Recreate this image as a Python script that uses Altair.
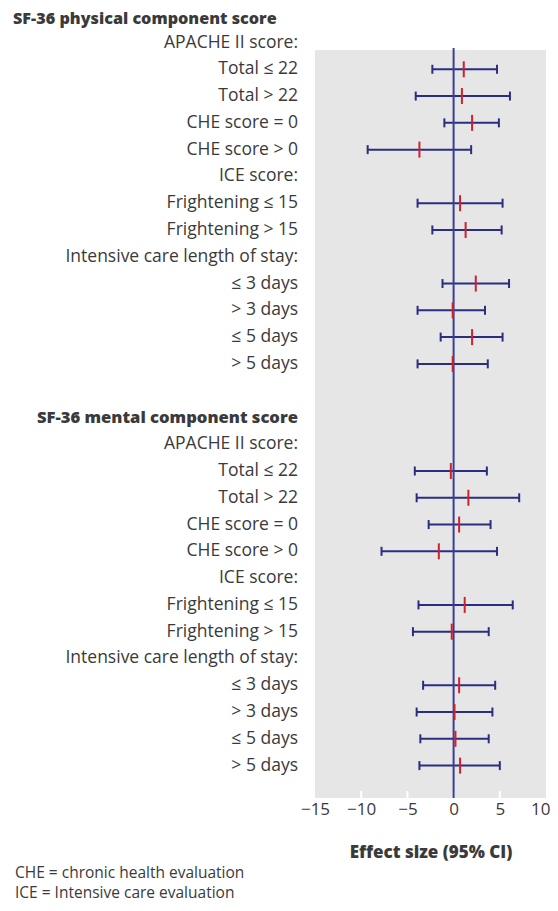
import altair as alt
import pandas as pd

# ---- data ----
labels = [
    "APACHE II score:", "Total ≤ 22", "Total > 22", "CHE score = 0", "CHE score > 0",
    "ICE score:", "Frightening ≤ 15", "Frightening > 15",
    "Intensive care length of stay:", "≤ 3 days", "> 3 days", "≤ 5 days", "> 5 days",
]
sections = ["SF-36 physical component score", "SF-36 mental component score"]

# estimates (None for header rows)
phys_est = [None, 1.1, 0.9, 2.0, -3.7, None, 0.7, 1.3, None, 2.4, -0.1, 2.0, -0.1]
phys_lo = [None, -2.3, -4.1, -1.0, -9.3, None, -3.9, -2.3, None, -1.2, -3.9, -1.4, -3.9]
phys_hi = [None, 4.7, 6.1, 4.9, 1.9, None, 5.3, 5.2, None, 6.0, 3.4, 5.3, 3.7]

ment_est = [None, -0.3, 1.6, 0.6, -1.6, None, 1.2, -0.2, None, 0.6, 0.1, 0.2, 0.7]
ment_lo = [None, -4.2, -4.0, -2.7, -7.8, None, -3.8, -4.4, None, -3.3, -4.0, -3.6, -3.7]
ment_hi = [None, 3.6, 7.1, 4.0, 4.7, None, 6.4, 3.8, None, 4.5, 4.2, 3.8, 5.0]

x_ticks = [-15, -10, -5, 0, 5, 10]
inner_ticks = [-10, -5, 0, 5]
footnotes = ["CHE = chronic health evaluation", "ICE = Intensive care evaluation"]
foot_rows = [32.01, 32.76]

# ---- build tables ----
rows = []
ci = []
for s, (est, lo, hi) in enumerate([(phys_est, phys_lo, phys_hi), (ment_est, ment_lo, ment_hi)]):
    base = s * 15
    for i, lab in enumerate(labels):
        r = base + 1 + i
        rows.append({"label": lab, "row": r})
        if est[i] is not None:
            ci.append({"row": r, "est": est[i], "lo": lo[i], "hi": hi[i]})

rows_df = pd.DataFrame(rows)
ci_df = pd.DataFrame(ci)
title1_df = pd.DataFrame({"label": [sections[0]], "row": [0]})
title2_df = pd.DataFrame({"label": [sections[1]], "row": [15]})
zero_df = pd.DataFrame({"x": [0]})
tick_df = pd.DataFrame({"x": inner_ticks})
foot_df = pd.DataFrame({"label": footnotes, "row": foot_rows})

FONT = "Open Sans"
TXT = "#3a3a3a"
NAVY = "#2b2d80"
RED = "#d0202e"
LBL = 17.5

xscale = alt.Scale(domain=[-15, 10], nice=False, zero=False)
yscale = alt.Scale(domain=[1.28, 29.21], reverse=True, nice=False, zero=False)

x_axis = alt.Axis(values=x_ticks, format="d", domain=False, ticks=False, grid=False,
                  labelFlush=False,
                  labelAlign=alt.condition("datum.value == 10", alt.value("right"), alt.value("center")),
                  labelOffset=alt.condition("datum.value == 10", alt.value(4), alt.value(0)),
                  labelFont=FONT, labelFontSize=17, labelColor=TXT, labelPadding=3,
                  title="Effect size (95% CI)", titleFont=FONT, titleFontSize=17,
                  titleFontWeight=800, titleColor=TXT, titlePadding=27)

ci_rule = alt.Chart(ci_df).mark_rule(color=NAVY, strokeWidth=2).encode(
    x=alt.X("lo:Q", scale=xscale, axis=x_axis),
    x2="hi:Q",
    y=alt.Y("row:Q", scale=yscale, axis=None),
)
cap_lo = alt.Chart(ci_df).mark_tick(orient="vertical", color=NAVY, size=9, thickness=2, opacity=1).encode(
    x=alt.X("lo:Q"), y=alt.Y("row:Q"))
cap_hi = alt.Chart(ci_df).mark_tick(orient="vertical", color=NAVY, size=9, thickness=2, opacity=1).encode(
    x=alt.X("hi:Q"), y=alt.Y("row:Q"))

zero_line = alt.Chart(zero_df).mark_rule(color="#3b3f96", strokeWidth=2).encode(
    x=alt.X("x:Q"), y=alt.value(-2), y2=alt.value(748))

point = alt.Chart(ci_df).mark_tick(orient="vertical", color=RED, size=16, thickness=2, opacity=1).encode(
    x=alt.X("est:Q"), y=alt.Y("row:Q"))

inner = alt.Chart(tick_df).mark_rule(color="white", strokeWidth=2).encode(
    x=alt.X("x:Q"), y=alt.value(741), y2=alt.value(748))

row_text = alt.Chart(rows_df).mark_text(align="right", baseline="middle", font=FONT,
                                         fontSize=LBL, color=TXT).encode(
    x=alt.value(-17), y=alt.Y("row:Q"), text="label:N")

title1_text = alt.Chart(title1_df).mark_text(align="left", baseline="middle", font=FONT, dy=3,
                                              fontSize=16.2, fontWeight=800, color=TXT).encode(
    x=alt.value(-302), y=alt.Y("row:Q"), text="label:N")

title2_text = alt.Chart(title2_df).mark_text(align="right", baseline="middle", font=FONT, dy=1,
                                              fontSize=16.6, fontWeight=800, color=TXT).encode(
    x=alt.value(-17), y=alt.Y("row:Q"), text="label:N")

foot_text = alt.Chart(foot_df).mark_text(align="left", baseline="middle", font=FONT,
                                          fontSize=15.5, color=TXT).encode(
    x=alt.value(-300), y=alt.Y("row:Q"), text="label:N")

chart = alt.layer(
    ci_rule, inner, cap_lo, cap_hi, zero_line, point, row_text, title1_text, title2_text, foot_text
).properties(
    width=231, height=748,
    autosize=alt.AutoSizeParams(type="none"),
    padding={"left": 307, "top": 42, "right": 4, "bottom": 105},
).configure_view(fill="#e6e6e6", stroke=None)

chart.save("out.html", embed_options={"renderer": "svg", "actions": False})
